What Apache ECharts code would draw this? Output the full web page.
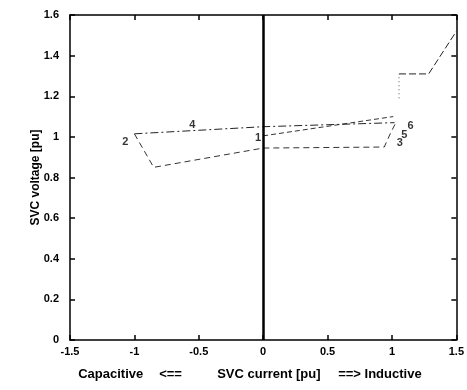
<!DOCTYPE html>
<html><head><meta charset="utf-8">
<script src="https://cdn.jsdelivr.net/npm/echarts@6/dist/echarts.min.js"></script>
<style>html,body{margin:0;padding:0;background:#fff}#c{width:467px;height:390px}</style>
</head><body><div id="c"></div>
<script>
// Data (SVC current [pu], SVC voltage [pu])
const xTicks = [-1.5, -1, -0.5, 0, 0.5, 1, 1.5];
const yTicks = [0, 0.2, 0.4, 0.6, 0.8, 1, 1.2, 1.4, 1.6];
const pathFrom1 = [[0, 1.005], [1.01, 1.10]];
const pathUpper = [[-1.0, 1.015], [0, 1.05], [1.02, 1.07]];
const pathLower = [[-1.0, 1.015], [-0.85, 0.85], [0, 0.945], [0.94, 0.95], [0.99, 1.02], [1.03, 1.07]];
const viVertical = [[1.055, 1.19], [1.055, 1.31]];
const viUpper = [[1.055, 1.31], [1.285, 1.31], [1.5, 1.52]];
const pointLabels = [
  {name: '1', value: [-0.04, 0.995]},
  {name: '2', value: [-1.07, 0.975]},
  {name: '3', value: [1.06, 0.97]},
  {name: '4', value: [-0.55, 1.06]},
  {name: '5', value: [1.095, 1.01]},
  {name: '6', value: [1.145, 1.055]}
];

const chart = echarts.init(document.getElementById('c'));
const font = 'Liberation Sans, Arial, sans-serif';
function line(data, dash, w, color) {
  return {type: 'line', data: data, symbol: 'none', silent: true,
    lineStyle: {color: color || '#111', width: w || 1, type: dash}, z: 3};
}
const nameRich = {
  a: {width: 81, align: 'left', fontFamily: font, fontSize: 13, fontWeight: 'bold', color: '#000'},
  b: {width: 58, align: 'left', fontFamily: font, fontSize: 13, fontWeight: 'bold', color: '#000'},
  c: {width: 121, align: 'left', fontFamily: font, fontSize: 13, fontWeight: 'bold', color: '#000'},
  d: {width: 110, align: 'left', fontFamily: font, fontSize: 13, fontWeight: 'bold', color: '#000'}
};
chart.setOption({
  animation: false,
  grid: {left: 70, right: 9, top: 15, bottom: 50},
  xAxis: [{
    type: 'value', min: -1.5, max: 1.5, interval: 0.5,
    axisLine: {onZero: false, lineStyle: {color: '#000', width: 1.5}},
    axisTick: {inside: true, length: 5, lineStyle: {color: '#000', width: 1.5}},
    splitLine: {show: false},
    axisLabel: {color: '#000', fontFamily: font, fontSize: 11, fontWeight: 'bold', margin: 6,
      formatter: v => xTicks.includes(v) ? String(v) : ''},
    name: '{a|Capacitive}{b|<==}{c|SVC current [pu]}{d|==> Inductive}',
    nameLocation: 'middle', nameGap: 28, nameMoveOverlap: false,
    nameTextStyle: {color: '#000', fontFamily: font, fontSize: 13, fontWeight: 'bold', rich: nameRich}
  }, {
    type: 'value', min: -1.5, max: 1.5, interval: 0.5, position: 'top',
    axisLine: {onZero: false, lineStyle: {color: '#000', width: 1.5}},
    axisTick: {inside: true, length: 5, lineStyle: {color: '#000', width: 1.5}},
    axisLabel: {show: false}, splitLine: {show: false}
  }],
  yAxis: [{
    type: 'value', min: 0, max: 1.6, interval: 0.2,
    axisLine: {show: true, onZero: false, lineStyle: {color: '#000', width: 1.5}},
    axisTick: {show: true, inside: true, length: 5, lineStyle: {color: '#000', width: 1.5}},
    splitLine: {show: false},
    axisLabel: {color: '#000', fontFamily: font, fontSize: 11, fontWeight: 'bold', margin: 11,
      formatter: v => { const t = yTicks.find(k => Math.abs(k - v) < 1e-9); return t === undefined ? '' : String(t); }},
    name: 'SVC voltage [pu]', nameLocation: 'middle', nameGap: 28, nameRotate: 90,
    nameMoveOverlap: false,
    nameTextStyle: {color: '#000', fontFamily: font, fontSize: 12, fontWeight: 'bold'}
  }, {
    type: 'value', min: 0, max: 1.6, interval: 0.2, position: 'right',
    axisLine: {show: true, onZero: false, lineStyle: {color: '#000', width: 1.5}},
    axisTick: {show: true, inside: true, length: 5, lineStyle: {color: '#000', width: 1.5}},
    axisLabel: {show: false}, splitLine: {show: false}
  }],
  series: [
    Object.assign(line(pathFrom1, [5, 3], 1, '#333'), {
      markLine: {silent: true, symbol: 'none', label: {show: false},
        lineStyle: {color: '#000', width: 2.5, type: 'solid'},
        data: [{xAxis: 0}]}
    }),
    line(pathUpper, [8, 3, 2, 3], 1, '#222'),
    line(pathLower, [6, 4], 1, '#333'),
    line(viVertical, [1, 3], 1, '#555'),
    line(viUpper, [7, 3], 1, '#222'),
    {type: 'scatter', data: pointLabels, symbolSize: 0, silent: true, z: 5,
      label: {show: true, formatter: p => p.name, color: '#000', fontFamily: font,
        fontSize: 11, fontWeight: 'bold', position: 'inside'}}
  ]
});
</script></body></html>
